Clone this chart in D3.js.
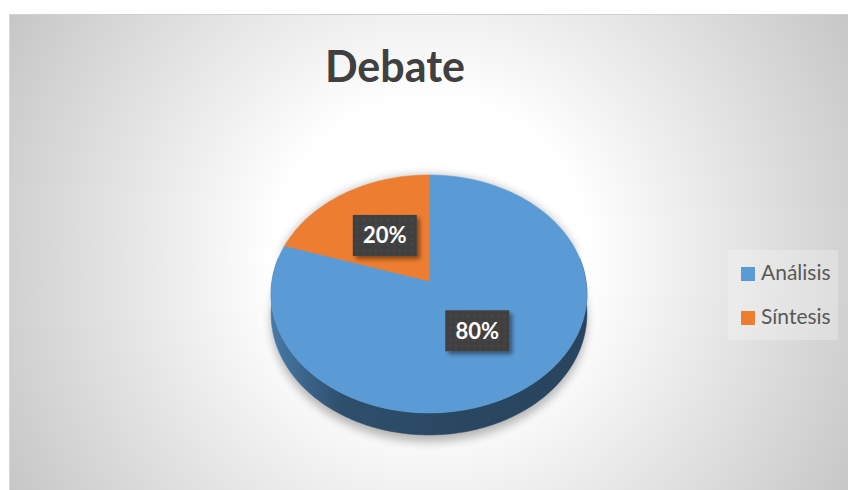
<!DOCTYPE html>
<html>
<head>
<meta charset="utf-8">
<script src="https://cdn.jsdelivr.net/npm/d3@7"></script>
<style>
  body { margin: 0; background: #fff; }
  svg { display: block; }
</style>
</head>
<body>
<div id="chart"></div>
<script>
const categories = ["Análisis", "Síntesis"];
const values = [80, 20];
const colors = ["#5b9bd5", "#ed7d31"];
const title = "Debate";

const W = 848, H = 490;

const svg = d3.select("#chart")
  .append("svg")
  .attr("width", W)
  .attr("height", H);

const defs = svg.append("defs");

// background gradient
const bg = defs.append("radialGradient")
  .attr("id", "bg")
  .attr("gradientUnits", "userSpaceOnUse")
  .attr("cx", 430).attr("cy", 255).attr("r", 520);
bg.append("stop").attr("offset", 0).attr("stop-color", "#ffffff");
bg.append("stop").attr("offset", 0.3).attr("stop-color", "#ffffff");
bg.append("stop").attr("offset", 1).attr("stop-color", "#c0c0c0");

const blur = defs.append("filter").attr("id", "soft")
  .attr("x", "-20%").attr("y", "-20%").attr("width", "140%").attr("height", "140%");
blur.append("feGaussianBlur").attr("stdDeviation", 5);

const boxShadow = defs.append("filter").attr("id", "boxShadow")
  .attr("x", "-30%").attr("y", "-30%").attr("width", "160%").attr("height", "160%");
boxShadow.append("feDropShadow")
  .attr("dx", 3).attr("dy", 3).attr("stdDeviation", 2)
  .attr("flood-color", "#000").attr("flood-opacity", 0.45);

const dots = defs.append("pattern")
  .attr("id", "dots")
  .attr("patternUnits", "userSpaceOnUse")
  .attr("width", 6).attr("height", 6);
dots.append("rect").attr("width", 6).attr("height", 6).attr("fill", "#404040");
dots.append("circle").attr("cx", 3).attr("cy", 3).attr("r", 0.8).attr("fill", "#555");

// chart area
svg.append("rect")
  .attr("x", 9).attr("y", 14)
  .attr("width", W - 9).attr("height", H - 14)
  .attr("fill", "url(#bg)");
svg.append("line")
  .attr("x1", 9).attr("x2", W).attr("y1", 14.5).attr("y2", 14.5)
  .attr("stroke", "#d0d0d0");
svg.append("line")
  .attr("x1", 9.5).attr("x2", 9.5).attr("y1", 14).attr("y2", H)
  .attr("stroke", "#d8d8d8");

// title
svg.append("text")
  .attr("x", 395)
  .attr("y", 82)
  .attr("text-anchor", "middle")
  .style("font-family", "Lato, 'Open Sans', sans-serif")
  .style("font-weight", "bold")
  .style("font-size", "43px")
  .style("fill", "#404040")
  .text(title);

// perspective pie
const cx = 429, cy = 281, rx = 157, ry = 117.6, k = 0.109, depth = 19.6;

function proj(theta, f, z) {
  const u = Math.sin(theta) * f;
  const v = -Math.cos(theta) * f;
  const w = 1 / (1 - k * v);
  return [cx + rx * u * w, cy + ry * v * w + (z || 0) * w];
}

function rim(a0, a1, z, f) {
  const n = Math.max(2, Math.ceil(Math.abs(a1 - a0) / 0.02));
  return d3.range(n + 1).map(i => proj(a0 + (a1 - a0) * i / n, f == null ? 1 : f, z));
}

const pie = d3.pie().sort(null).startAngle(0).endAngle(2 * Math.PI);
const slices = pie(values);

const lineGen = d3.line();

// shadow below pie
const shadowPts = rim(Math.PI / 2 - 0.3, 3 * Math.PI / 2 + 0.3, depth + 6)
  .concat(rim(3 * Math.PI / 2 + 0.3, 5 * Math.PI / 2 - 0.3, 0));
svg.append("path")
  .attr("d", lineGen(shadowPts) + "Z")
  .attr("fill", "#000")
  .attr("opacity", 0.28)
  .attr("filter", "url(#soft)");

// side gradients per slice
slices.forEach((s, i) => {
  const c = d3.color(colors[i]);
  const g = defs.append("linearGradient")
    .attr("id", "side" + i)
    .attr("gradientUnits", "userSpaceOnUse")
    .attr("x1", cx - rx).attr("x2", cx + rx).attr("y1", 0).attr("y2", 0);
  g.append("stop").attr("offset", 0).attr("stop-color", c.darker(0.7));
  g.append("stop").attr("offset", 0.22).attr("stop-color", c.darker(1.9));
  g.append("stop").attr("offset", 0.6).attr("stop-color", c.darker(2.2));
  g.append("stop").attr("offset", 1).attr("stop-color", c.darker(2.3));
});

// sides: only the front half is visible
const sideG = svg.append("g");
slices.forEach((s, i) => {
  const a0 = Math.max(s.startAngle, Math.PI / 2 - 0.2);
  const a1 = Math.min(s.endAngle, 3 * Math.PI / 2 + 0.2);
  if (a1 <= a0) return;
  const pts = rim(a0, a1, 0).concat(rim(a1, a0, depth));
  sideG.append("path")
    .attr("d", lineGen(pts) + "Z")
    .attr("fill", `url(#side${i})`)
    .attr("stroke", `url(#side${i})`)
    .attr("stroke-width", 0.5);
});

// top faces
const topG = svg.append("g");
slices.forEach((s, i) => {
  const pts = [proj(0, 0, 0)].concat(rim(s.startAngle, s.endAngle, 0));
  topG.append("path")
    .attr("d", lineGen(pts) + "Z")
    .attr("fill", colors[i])
    .attr("stroke", colors[i])
    .attr("stroke-width", 0.5);
});

// data labels
const labelG = svg.append("g");
slices.forEach((s, i) => {
  const mid = (s.startAngle + s.endAngle) / 2;
  const [lx, ly] = proj(mid, 0.5, 0);
  const g = labelG.append("g").attr("transform", `translate(${lx},${ly})`);
  g.append("rect")
    .attr("x", -32).attr("y", -20.5)
    .attr("width", 64).attr("height", 41)
    .attr("fill", "url(#dots)")
    .attr("filter", "url(#boxShadow)");
  g.append("text")
    .attr("text-anchor", "middle")
    .attr("y", 8)
    .style("font-family", "Lato, 'Open Sans', sans-serif")
    .style("font-weight", "bold")
    .style("font-size", "22px")
    .style("fill", "#ffffff")
    .text(Math.round(s.value / d3.sum(values) * 100) + "%");
});

// legend
const legend = svg.append("g");
legend.append("rect")
  .attr("x", 728).attr("y", 250)
  .attr("width", 110).attr("height", 90)
  .attr("fill", "#ffffff").attr("opacity", 0.25);
categories.forEach((c, i) => {
  const y0 = 267 + i * 44;
  legend.append("rect")
    .attr("x", 741).attr("y", y0)
    .attr("width", 14).attr("height", 14)
    .attr("fill", colors[i]);
  legend.append("text")
    .attr("x", 761).attr("y", y0 + 13)
    .style("font-family", "Lato, 'Open Sans', sans-serif")
    .style("font-size", "21px")
    .style("fill", "#595959")
    .text(c);
});
</script>
</body>
</html>
